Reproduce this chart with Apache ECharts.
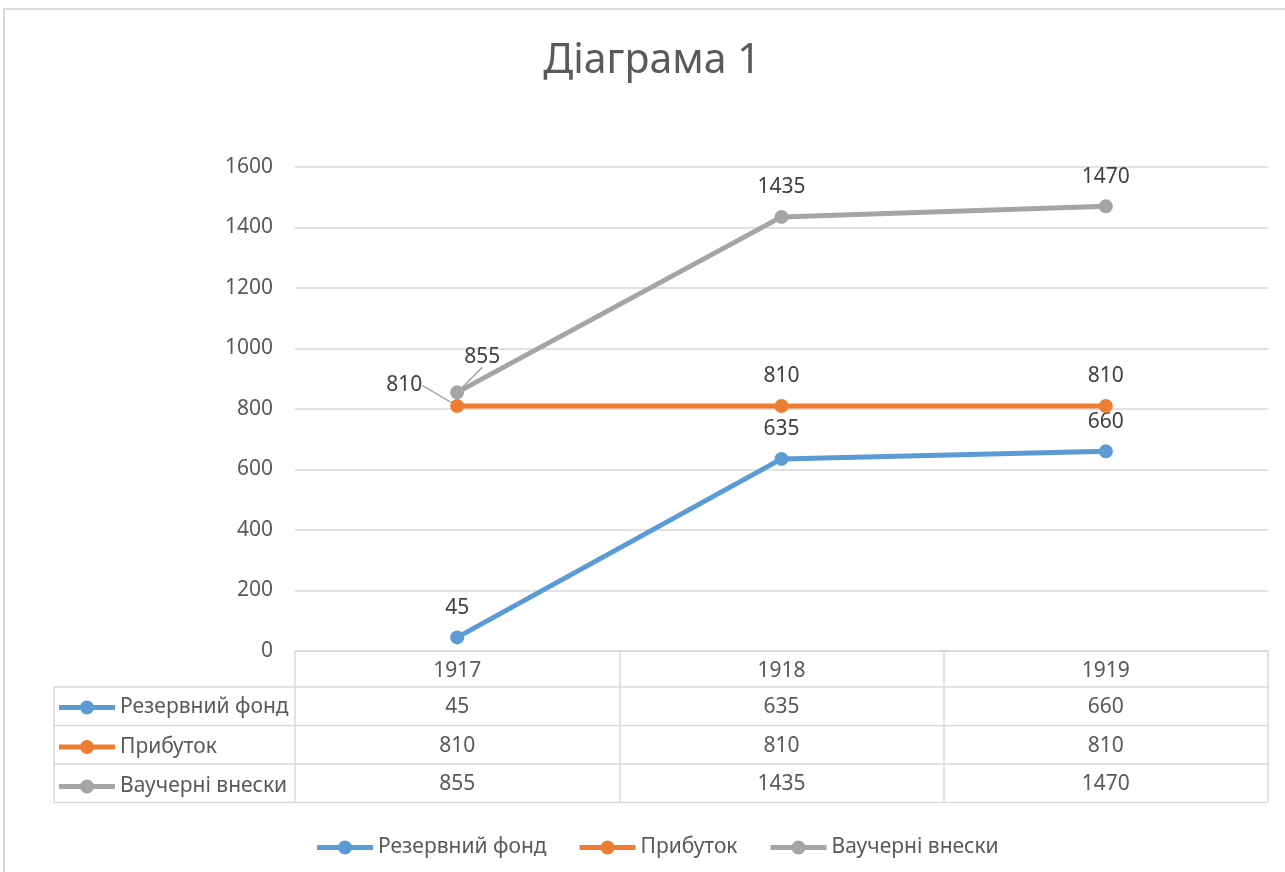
<!DOCTYPE html>
<html>
<head>
<meta charset="utf-8">
<script src="https://cdn.jsdelivr.net/npm/echarts@6/dist/echarts.min.js"></script>
<style>html,body{margin:0;padding:0;background:#fff;}#c{width:1285px;height:872px;}</style>
</head>
<body>
<div id="c"></div>
<script>
const categories = ['1917', '1918', '1919'];
const seriesNames = ['Резервний фонд', 'Прибуток', 'Ваучерні внески'];
const reserveFund = [45, 635, 660];
const profit = [810, 810, 810];
const voucher = [855, 1435, 1470];
const yMin = 0, yMax = 1600, yStep = 200;

const colors = ['#5B9BD5', '#ED7D31', '#A5A5A5'];
const FONT = '"Noto Sans", sans-serif';
const TXT = '#595959';
const GRIDC = '#d9d9d9';
const seriesValues = [reserveFund, profit, voucher];
const LEGEND_ICON = 'path://M0 4.5H56V9.5H0Z M21 7a7 7 0 1 1 14 0a7 7 0 1 1 -14 0Z';

const chart = echarts.init(document.getElementById('c'));

// label offsets for the first (crowded) category
const firstOffsets = [null, {dx: -53, dy: 9}, {dx: 25, dy: -6}];

const series = seriesValues.map((vals, si) => ({
  name: seriesNames[si],
  type: 'line',
  data: vals.map((v, i) => (i === 0 && firstOffsets[si]) ? {value: v, labelLine: {show: true}} : v),
  symbol: 'circle',
  symbolSize: 14,
  lineStyle: {width: 5, color: colors[si]},
  itemStyle: {color: colors[si]},
  label: {show: true, position: 'top', distance: 12, fontFamily: FONT, fontSize: 21, color: '#404040'},
  labelLine: {show: false, lineStyle: {color: '#a6a6a6', width: 1.5}},
  labelLayout: function (p) {
    if (p.dataIndex === 0 && firstOffsets[si]) return {dx: firstOffsets[si].dx, dy: firstOffsets[si].dy};
    return {};
  },
  z: 3 + si
}));

const legendText = {fontFamily: FONT, fontSize: 21, color: TXT, lineHeight: 20};

chart.setOption({
  animation: false,
  backgroundColor: '#fff',
  color: colors,
  title: {
    text: 'Діаграма 1', left: 652, top: 41, padding: 0, textAlign: 'center',
    textStyle: {fontFamily: FONT, fontSize: 41, fontWeight: 'normal', color: TXT}
  },
  grid: {left: 295, right: 17, top: 167, bottom: 221, containLabel: false},
  legend: [
    {
      data: seriesNames, left: 317, top: 837, padding: 0, itemGap: 33,
      itemWidth: 56, itemHeight: 14, icon: LEGEND_ICON, textStyle: legendText
    },
    {
      data: seriesNames, orient: 'vertical', left: 59, top: 697, padding: 0, itemGap: 18.5,
      itemWidth: 56, itemHeight: 14, icon: LEGEND_ICON, textStyle: legendText
    }
  ],
  xAxis: {
    type: 'category', data: categories, boundaryGap: true,
    axisLine: {show: true, lineStyle: {color: GRIDC, width: 1.5}},
    axisTick: {show: true, inside: false, length: 151, interval: 0, alignWithLabel: false, lineStyle: {color: GRIDC, width: 1.5}},
    axisLabel: {margin: 10, fontFamily: FONT, fontSize: 21, color: TXT, lineHeight: 20, interval: 0}
  },
  yAxis: {
    type: 'value', min: yMin, max: yMax, interval: yStep,
    axisLine: {show: false}, axisTick: {show: false},
    axisLabel: {margin: 22, fontFamily: FONT, fontSize: 21, color: TXT, formatter: v => String(v)},
    splitLine: {lineStyle: {color: GRIDC, width: 1.5}}
  },
  series: series
});

// build data table graphics from axis scales
const y0 = chart.convertToPixel({yAxisIndex: 0}, yMin);
const xs = categories.map(c => chart.convertToPixel({xAxisIndex: 0}, c));
const band = xs[1] - xs[0];
const gridRight = xs[xs.length - 1] + band / 2;
const headerH = 36, rowH = 38.5;
const tableLeft = 54;
const g = [];
// outer chart border
g.push({type: 'rect', shape: {x: 4, y: 9, width: 1400, height: 1000}, style: {fill: null, stroke: GRIDC, lineWidth: 2}, silent: true});
for (let r = 0; r <= seriesNames.length; r++) {
  const yy = y0 + headerH + r * rowH;
  g.push({type: 'line', shape: {x1: tableLeft, y1: yy, x2: gridRight, y2: yy}, style: {stroke: GRIDC, lineWidth: 1.5}, silent: true});
}
g.push({type: 'line', shape: {x1: tableLeft, y1: y0 + headerH, x2: tableLeft, y2: y0 + headerH + seriesNames.length * rowH}, style: {stroke: GRIDC, lineWidth: 1.5}, silent: true});
seriesValues.forEach((vals, si) => {
  vals.forEach((v, i) => {
    g.push({
      type: 'text', x: xs[i], y: y0 + headerH + si * rowH + rowH / 2 + 1,
      style: {text: String(v), fontFamily: FONT, fontSize: 21, fill: TXT, align: 'center', verticalAlign: 'middle'},
      silent: true
    });
  });
});
chart.setOption({graphic: g});
</script>
</body>
</html>
